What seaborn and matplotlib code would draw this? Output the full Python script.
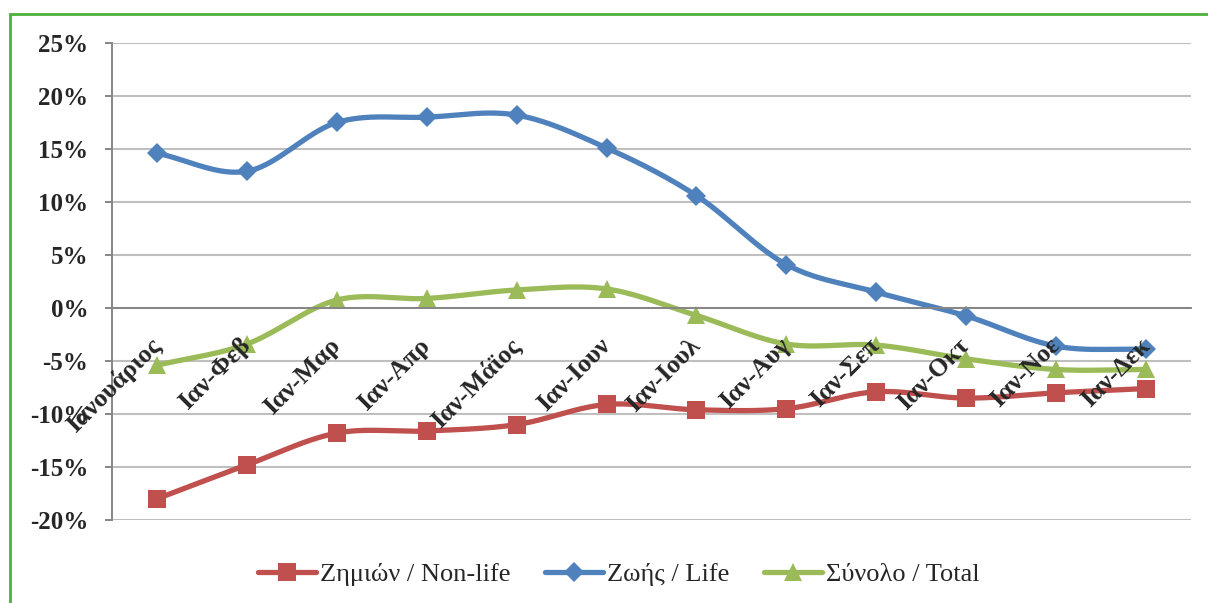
import numpy as np
import pandas as pd
import matplotlib
matplotlib.use("Agg")
import matplotlib.pyplot as plt
from matplotlib.lines import Line2D
from matplotlib.patches import Rectangle
import seaborn as sns

# data (cumulative growth, %)
months = ['Ιανουάριος', 'Ιαν-Φεβ', 'Ιαν-Μαρ', 'Ιαν-Απρ', 'Ιαν-Μάϊος', 'Ιαν-Ιουν',
          'Ιαν-Ιουλ', 'Ιαν-Αυγ', 'Ιαν-Σεπ', 'Ιαν-Οκτ', 'Ιαν-Νοε', 'Ιαν-Δεκ']
non_life = [-18.0, -14.8, -11.8, -11.6, -11.0, -9.1, -9.6, -9.5, -7.9, -8.5, -8.0, -7.6]
life = [14.6, 12.9, 17.5, 18.0, 18.2, 15.1, 10.6, 4.1, 1.5, -0.75, -3.6, -3.9]
total = [-5.4, -3.4, 0.75, 0.9, 1.7, 1.8, -0.7, -3.4, -3.5, -4.8, -5.8, -5.8]

series_names = ['Ζημιών / Non-life', 'Ζωής / Life', 'Σύνολο / Total']
colors = ['#C0504D', '#4F81BD', '#9BBB59']
markers = ['s', 'D', '^']
msizes = [12.5, 10.5, 13.5]


def smooth(vals, n=24):
    # Excel-style smoothed line (Catmull-Rom through the points)
    p = np.asarray(vals, dtype=float)
    pad = np.concatenate([[2 * p[0] - p[1]], p, [2 * p[-1] - p[-2]]])
    xs, ys = [], []
    t = np.linspace(0, 1, n, endpoint=False)
    for i in range(len(p) - 1):
        p0, p1, p2, p3 = pad[i:i + 4]
        y = 0.5 * (2 * p1 + (-p0 + p2) * t + (2 * p0 - 5 * p1 + 4 * p2 - p3) * t ** 2
                   + (-p0 + 3 * p1 - 3 * p2 + p3) * t ** 3)
        xs.append(i + t)
        ys.append(y)
    xs.append([len(p) - 1])
    ys.append([p[-1]])
    return np.concatenate(xs), np.concatenate(ys)


sns.set_style("white")
plt.rcParams['font.family'] = ['Liberation Serif', 'DejaVu Serif']

fig = plt.figure(figsize=(12.08, 6.03), dpi=100)
ax = fig.add_axes([112 / 1208, 1 - 520 / 603, (1191 - 112) / 1208, (520 - 43) / 603])

x = np.arange(len(months))
handles = []
for vals, name, c, m, ms in zip([non_life, life, total], series_names, colors, markers, msizes):
    sx, sy = smooth(vals)
    sns.lineplot(x=sx, y=sy, ax=ax, color=c, lw=3.8, sort=False, estimator=None)
    ax.plot(x, vals, ls='none', marker=m, ms=ms, color=c, mec=c, mew=0)
    handles.append(Line2D([], [], color=c, lw=3.8, marker=m, ms=ms, mew=0, label=name))

ax.set_xlim(-0.5, len(months) - 0.5)
ax.set_ylim(-20, 25)
ax.set_yticks(np.arange(-20, 26, 5))
ax.set_yticklabels([f'{v}%' for v in range(-20, 26, 5)], fontweight='bold', fontsize=18)
ax.yaxis.grid(True, color='#BFBFBF', lw=1.5)
ax.xaxis.grid(False)

for s in ['top', 'right']:
    ax.spines[s].set_visible(False)
ax.spines['left'].set_color('#868686')
ax.spines['left'].set_linewidth(1.4)
ax.spines['bottom'].set_position(('data', 0))
ax.spines['bottom'].set_color('#868686')
ax.spines['bottom'].set_linewidth(1.4)

ax.set_xticks(x)
ax.set_xticks(np.arange(-0.5, len(months), 1), minor=True)
ax.set_xticklabels(months, fontweight='bold', fontsize=18.5, rotation=45,
                   ha='right', va='center', rotation_mode='anchor')
ax.tick_params(axis='x', which='major', length=0, pad=24.5)
ax.tick_params(axis='x', which='minor', length=5, width=1.4, color='#868686', direction='out')
ax.tick_params(axis='y', length=5, width=1.4, color='#868686', direction='out', pad=12, left=True)
ax.set_xlabel('')
ax.set_ylabel('')
# month labels sit on top of the lines, like in the original
ax.xaxis.set_zorder(3)

fig.legend(handles=handles, loc='center', bbox_to_anchor=(619 / 1208, 1 - 574 / 603), ncol=3,
           frameon=False, fontsize=19, handlelength=2.2, handletextpad=0.15,
           columnspacing=1.3)

# green chart border (cropped on the right and bottom)
fig.add_artist(Rectangle((10 / 1208, -0.5), 2.0, 0.5 + 1 - 14 / 603, transform=fig.transFigure,
                         fill=False, edgecolor='#4CB13A', lw=2))

fig.savefig("out.png", dpi=100)
